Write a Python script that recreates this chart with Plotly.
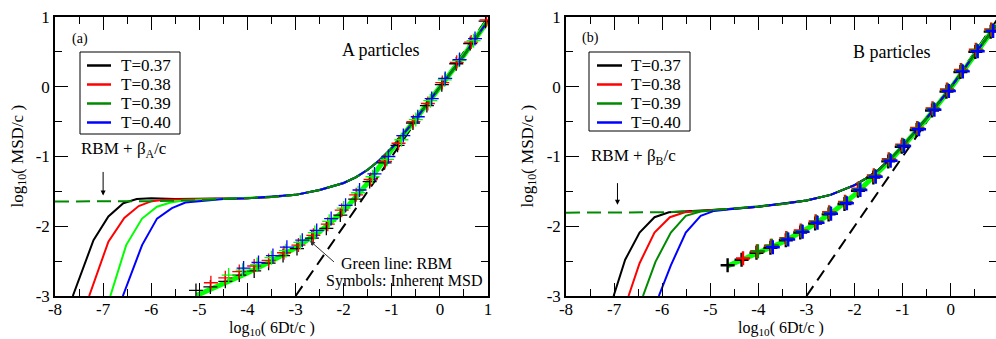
import plotly.graph_objects as go

FONT = "Liberation Serif, Times New Roman, serif"
BLACK, RED, LIME, DKGREEN, BLUE = "#000000", "#ff0000", "#00ff00", "#008a00", "#0000ff"

temps = ["T=0.37", "T=0.38", "T=0.39", "T=0.40"]
legend_colors = [BLACK, RED, DKGREEN, BLUE]

# ---------------- panel (a): A particles ----------------
a_tail_x = [-4.5, -4.0, -3.5, -3.0, -2.5, -2.0, -1.75, -1.5, -1.25, -1.0, -0.5, 0.0, 0.5, 1.0]
a_tail_y = [-1.61, -1.60, -1.58, -1.55, -1.48, -1.38, -1.30, -1.19, -1.05, -0.88, -0.46, -0.01, 0.45, 0.95]

a_k_x = [-7.63, -7.20, -6.89, -6.58, -6.30, -6.0, -5.5, -5.0]
a_k_y = [-3.0, -2.20, -1.86, -1.67, -1.61, -1.60, -1.61, -1.61]
a_r_x = [-7.29, -6.89, -6.56, -6.26, -5.99, -5.71, -5.0]
a_r_y = [-3.0, -2.22, -1.88, -1.71, -1.64, -1.62, -1.61]
a_g_x = [-6.85, -6.52, -6.19, -5.88, -5.60, -5.33, -5.0]
a_g_y = [-3.0, -2.27, -1.89, -1.72, -1.66, -1.63, -1.62]
a_b_x = [-6.59, -6.19, -5.88, -5.57, -5.29, -4.98, -4.7]
a_b_y = [-3.0, -2.27, -1.89, -1.74, -1.66, -1.64, -1.63]

a_dash_x = [-8.0, -6.0, -5.0]
a_dash_y = [-1.645, -1.64, -1.625]

a_rbm_x = [-5.05, -4.5, -4.0, -3.5, -3.0, -2.5, -2.0, -1.5, -1.25, -1.0, -0.5, 0.0, 0.5, 1.0]
a_rbm_y = [-2.99, -2.83, -2.67, -2.50, -2.31, -2.08, -1.78, -1.38, -1.13, -0.90, -0.46, -0.01, 0.45, 0.95]

a_sym_k_x = [-5.07, -4.77, -4.46, -4.17, -3.86, -3.56, -3.26, -2.97, -2.66, -2.36, -2.07, -1.76, -1.46, -1.15, -0.88, -0.56, -0.27, 0.04, 0.34, 0.63, 0.95]
a_sym_k_y = [-2.92, -2.87, -2.79, -2.70, -2.64, -2.53, -2.42, -2.32, -2.17, -2.03, -1.84, -1.61, -1.36, -1.09, -0.84, -0.52, -0.27, 0.03, 0.33, 0.62, 0.94]
a_sym_r_x = [-4.76, -4.46, -4.17, -3.86, -3.56, -3.24, -2.94, -2.63, -2.33, -2.04, -1.74, -1.44, -1.14, -0.86, -0.55, -0.25, 0.05, 0.35, 0.65, 0.97]
a_sym_r_y = [-2.81, -2.74, -2.65, -2.57, -2.49, -2.38, -2.27, -2.13, -1.97, -1.77, -1.55, -1.33, -1.07, -0.81, -0.50, -0.24, 0.06, 0.35, 0.64, 0.96]
a_sym_g_x = [-4.39, -4.10, -3.80, -3.50, -3.20, -2.90, -2.60, -2.30, -2.00, -1.70, -1.40, -1.10, -0.80, -0.50, -0.20, 0.10, 0.40, 0.70]
a_sym_g_y = [-2.70, -2.63, -2.55, -2.45, -2.35, -2.23, -2.09, -1.93, -1.74, -1.52, -1.29, -1.04, -0.76, -0.47, -0.20, 0.10, 0.38, 0.66]
a_sym_b_x = [-4.08, -3.77, -3.47, -3.18, -2.86, -2.56, -2.26, -1.96, -1.67, -1.36, -1.07, -0.76, -0.46, -0.17, 0.11, 0.41, 0.73]
a_sym_b_y = [-2.60, -2.52, -2.42, -2.30, -2.20, -2.06, -1.89, -1.70, -1.48, -1.25, -1.00, -0.70, -0.43, -0.17, 0.12, 0.39, 0.69]

# ---------------- panel (b): B particles ----------------
b_tail_x = [-4.5, -4.0, -3.5, -3.0, -2.5, -2.0, -1.75, -1.5, -1.25, -1.0, -0.5, 0.0, 0.5, 0.94]
b_tail_y = [-1.75, -1.72, -1.68, -1.63, -1.55, -1.41, -1.31, -1.19, -1.03, -0.85, -0.45, -0.01, 0.47, 0.88]

b_k_x = [-7.01, -6.77, -6.47, -6.16, -5.86, -5.3, -4.9]
b_k_y = [-3.0, -2.48, -2.09, -1.87, -1.80, -1.78, -1.77]
b_r_x = [-6.70, -6.47, -6.16, -5.84, -5.53, -5.1]
b_r_y = [-3.0, -2.53, -2.09, -1.87, -1.80, -1.78]
b_g_x = [-6.40, -6.14, -5.82, -5.51, -5.20, -4.9]
b_g_y = [-3.0, -2.51, -2.09, -1.85, -1.79, -1.77]
b_b_x = [-6.07, -5.82, -5.51, -5.20, -4.92, -4.7]
b_b_y = [-3.0, -2.56, -2.09, -1.85, -1.78, -1.76]

b_dash_x = [-8.0, -6.0, -5.2]
b_dash_y = [-1.805, -1.80, -1.78]

b_rbm_x = [-4.64, -4.3, -4.0, -3.5, -3.0, -2.5, -2.0, -1.5, -1.25, -1.0, -0.5, 0.0, 0.5, 0.94]
b_rbm_y = [-2.57, -2.47, -2.38, -2.23, -2.04, -1.82, -1.55, -1.23, -1.05, -0.86, -0.46, -0.02, 0.47, 0.88]

b_sym_k_x = [-4.64, -4.35, -4.04, -3.75, -3.43, -3.13, -2.82, -2.54, -2.21, -1.93, -1.61, -1.30, -1.02, -0.71, -0.39, -0.09, 0.20, 0.51, 0.83]
b_sym_k_y = [-2.56, -2.48, -2.38, -2.31, -2.20, -2.09, -1.96, -1.83, -1.68, -1.49, -1.30, -1.07, -0.86, -0.62, -0.34, -0.07, 0.21, 0.50, 0.79]
b_sym_r_x = [-4.32, -4.03, -3.74, -3.42, -3.12, -2.81, -2.53, -2.20, -1.92, -1.60, -1.29, -1.01, -0.70, -0.38, -0.08, 0.21, 0.52, 0.84]
b_sym_r_y = [-2.46, -2.36, -2.28, -2.17, -2.06, -1.93, -1.80, -1.65, -1.46, -1.27, -1.04, -0.83, -0.59, -0.31, -0.04, 0.24, 0.53, 0.82]
b_sym_g_x = [-4.01, -3.72, -3.40, -3.10, -2.79, -2.51, -2.18, -1.90, -1.58, -1.27, -0.99, -0.68, -0.36, -0.06, 0.23, 0.54, 0.86]
b_sym_g_y = [-2.36, -2.28, -2.18, -2.07, -1.94, -1.81, -1.66, -1.47, -1.28, -1.05, -0.84, -0.60, -0.32, -0.05, 0.23, 0.52, 0.81]
b_sym_b_x = [-3.70, -3.38, -3.08, -2.77, -2.49, -2.16, -1.88, -1.56, -1.25, -0.97, -0.66, -0.34, -0.04, 0.25, 0.56, 0.88]
b_sym_b_y = [-2.30, -2.19, -2.08, -1.95, -1.82, -1.67, -1.48, -1.29, -1.06, -0.85, -0.61, -0.33, -0.06, 0.22, 0.51, 0.80]

# diffusive guide line (slope 1)
diff_x = [-3.0, 1.0]
diff_y = [-3.0, 1.0]

x_ticks = [-8, -7, -6, -5, -4, -3, -2, -1, 0, 1]
x_ticktext = ["-8", "-7", "-6", "-5", "-4", "-3", "-2", "-1", "0", "1"]
y_ticks = [-3, -2, -1, 0, 1]
y_ticktext = ["-3", "-2", "-1", "0", "1"]

fig = go.Figure()


def add_line(x, y, color, width, xa, ya, dash=None):
    fig.add_trace(go.Scatter(x=x, y=y, mode="lines", line=dict(color=color, width=width, dash=dash),
                             xaxis=xa, yaxis=ya, showlegend=False, hoverinfo="skip"))


def add_sym(x, y, color, lw, size, xa, ya):
    fig.add_trace(go.Scatter(x=x, y=y, mode="markers",
                             marker=dict(symbol="cross-thin", size=size, line=dict(color=color, width=lw)),
                             xaxis=xa, yaxis=ya, showlegend=False, hoverinfo="skip"))


# ---- panel a traces
add_line(diff_x, diff_y, BLACK, 2, "x", "y", dash="12px,7px")
add_line(a_rbm_x, a_rbm_y, LIME, 5, "x", "y")
for hx, hy, c in [(a_k_x, a_k_y, BLACK), (a_r_x, a_r_y, RED), (a_g_x, a_g_y, LIME), (a_b_x, a_b_y, BLUE)]:
    add_line(hx + a_tail_x, hy + a_tail_y, c, 2, "x", "y")
add_line(a_dash_x + a_tail_x, a_dash_y + a_tail_y, DKGREEN, 2, "x", "y", dash="14px,7px")
for sx, sy, c in [(a_sym_k_x, a_sym_k_y, BLACK), (a_sym_r_x, a_sym_r_y, RED),
                  (a_sym_g_x, a_sym_g_y, LIME), (a_sym_b_x, a_sym_b_y, BLUE)]:
    add_sym(sx, sy, c, 1.3, 10, "x", "y")

# ---- panel b traces
add_line(diff_x, diff_y, BLACK, 2, "x2", "y2", dash="12px,7px")
add_line(b_rbm_x, b_rbm_y, LIME, 5, "x2", "y2")
for hx, hy, c in [(b_k_x, b_k_y, BLACK), (b_r_x, b_r_y, RED), (b_g_x, b_g_y, DKGREEN), (b_b_x, b_b_y, BLUE)]:
    add_line(hx + b_tail_x, hy + b_tail_y, c, 2, "x2", "y2")
add_line(b_dash_x + b_tail_x, b_dash_y + b_tail_y, DKGREEN, 2, "x2", "y2", dash="14px,7px")
for sx, sy, c in [(b_sym_k_x, b_sym_k_y, BLACK), (b_sym_r_x, b_sym_r_y, RED),
                  (b_sym_g_x, b_sym_g_y, DKGREEN), (b_sym_b_x, b_sym_b_y, BLUE)]:
    add_sym(sx, sy, c, 2.4, 10, "x2", "y2")

W, H = 996, 339
TOP, BOT = 17, 43
PH = H - TOP - BOT


def px(xp):
    return xp / W


def py(yp):
    return 1 - (yp - TOP) / PH


axis_common = dict(showline=True, linecolor="black", linewidth=1.5, mirror="ticks", ticks="inside",
                   ticklen=13, tickwidth=1.2, tickcolor="black", showgrid=False, zeroline=False,
                   automargin=False, tickfont=dict(family=FONT, size=17, color="black"),
                   minor=dict(ticks="inside", ticklen=7, tickwidth=1.2, tickcolor="black",
                              tickmode="linear", tick0=0, dtick=0.5, showgrid=False))

fig.update_layout(
    width=W, height=H,
    margin=dict(l=0, r=0, t=TOP, b=BOT),
    paper_bgcolor="white", plot_bgcolor="white",
    font=dict(family=FONT, color="black"),
    showlegend=False,
    xaxis=dict(domain=[55 / W, 488 / W], range=[-8, 1], anchor="y", tickmode="array",
               tickvals=x_ticks, ticktext=x_ticktext, ticklabelstandoff=-3, **axis_common),
    yaxis=dict(domain=[0, 1], range=[-3, 1], anchor="x", tickmode="array",
               tickvals=y_ticks, ticktext=y_ticktext, **axis_common),
    xaxis2=dict(domain=[566 / W, 1.0], range=[-8, 0.94], anchor="y2", tickmode="array",
                tickvals=x_ticks, ticktext=x_ticktext, ticklabelstandoff=-3, **axis_common),
    yaxis2=dict(domain=[0, 1], range=[-3, 1], anchor="x2", tickmode="array",
                tickvals=y_ticks, ticktext=y_ticktext, **axis_common),
)

ann = []
shapes = []

# ---- legend boxes (one per panel)
legend_rows = [65.5, 84.5, 103.5, 122.5]
for (bx0, bx1, by0, by1, lx0, lx1, tx) in [(80, 180, 52, 134, 87, 111, 119),
                                           (589, 690, 52, 131, 597, 622, 629)]:
    shapes.append(dict(type="rect", xref="paper", yref="paper", x0=px(bx0), x1=px(bx1),
                       y0=py(by1), y1=py(by0), line=dict(color="black", width=1), fillcolor="white",
                       layer="above"))
    for t, c, ry in zip(temps, legend_colors, legend_rows):
        shapes.append(dict(type="line", xref="paper", yref="paper", x0=px(lx0), x1=px(lx1),
                           y0=py(ry), y1=py(ry), line=dict(color=c, width=2.5), layer="above"))
        ann.append(dict(x=px(tx), y=py(ry), xref="paper", yref="paper", text=t, showarrow=False,
                        xanchor="left", yanchor="middle",
                        font=dict(family=FONT, size=17, color="black")))


def txt(x, y, s, xr, yr, size, xanchor="center"):
    ann.append(dict(x=x, y=y, xref=xr, yref=yr, text=s, showarrow=False, xanchor=xanchor,
                    yanchor="middle", font=dict(family=FONT, size=size, color="black")))


txt(-7.48, 0.685, "(a)", "x", "y", 14)
txt(-1.23, 0.53, "A particles", "x", "y", 18)
txt(-6.57, -0.91, "RBM + β<sub>A</sub>/c", "x", "y", 17)
txt(-0.91, -2.53, "Green line: RBM", "x", "y", 16)
txt(-0.75, -2.78, "Symbols: Inherent MSD", "x", "y", 16)

txt(-7.50, 0.70, "(b)", "x2", "y2", 14)
txt(-1.24, 0.50, "B particles", "x2", "y2", 18)
txt(-6.59, -1.00, "RBM + β<sub>B</sub>/c", "x2", "y2", 17)

# axis titles
for cx in [(55 + 488) / 2 / W, (566 + 996) / 2 / W]:
    ann.append(dict(x=cx, y=py(328), xref="paper", yref="paper", text="log<sub>10</sub>( 6Dt/c )",
                    showarrow=False, xanchor="center", yanchor="middle",
                    font=dict(family=FONT, size=16, color="black")))
for cx in [18 / W, 528 / W]:
    ann.append(dict(x=cx, y=0.5, xref="paper", yref="paper", text="log<sub>10</sub>( MSD/c )",
                    showarrow=False, textangle=-90, xanchor="center", yanchor="middle",
                    font=dict(family=FONT, size=17, color="black")))

# arrows
ann.append(dict(x=-7.0, y=-1.56, xref="x", yref="y", ax=-7.0, ay=-1.20, axref="x", ayref="y",
                showarrow=True, arrowhead=2, arrowsize=1, arrowwidth=1, arrowcolor="black", text=""))
ann.append(dict(x=-6.93, y=-1.69, xref="x2", yref="y2", ax=-6.93, ay=-1.36, axref="x2", ayref="y2",
                showarrow=True, arrowhead=2, arrowsize=1, arrowwidth=1, arrowcolor="black", text=""))
ann.append(dict(x=-2.70, y=-2.21, xref="x", yref="y", ax=-2.17, ay=-2.53, axref="x", ayref="y",
                showarrow=True, arrowhead=2, arrowsize=1, arrowwidth=1, arrowcolor="#333333", text=""))

fig.update_layout(annotations=ann, shapes=shapes)

fig.write_html("out.html", config={"displayModeBar": False},
               post_script="document.body.style.margin='0px';document.body.style.overflow='hidden';")
